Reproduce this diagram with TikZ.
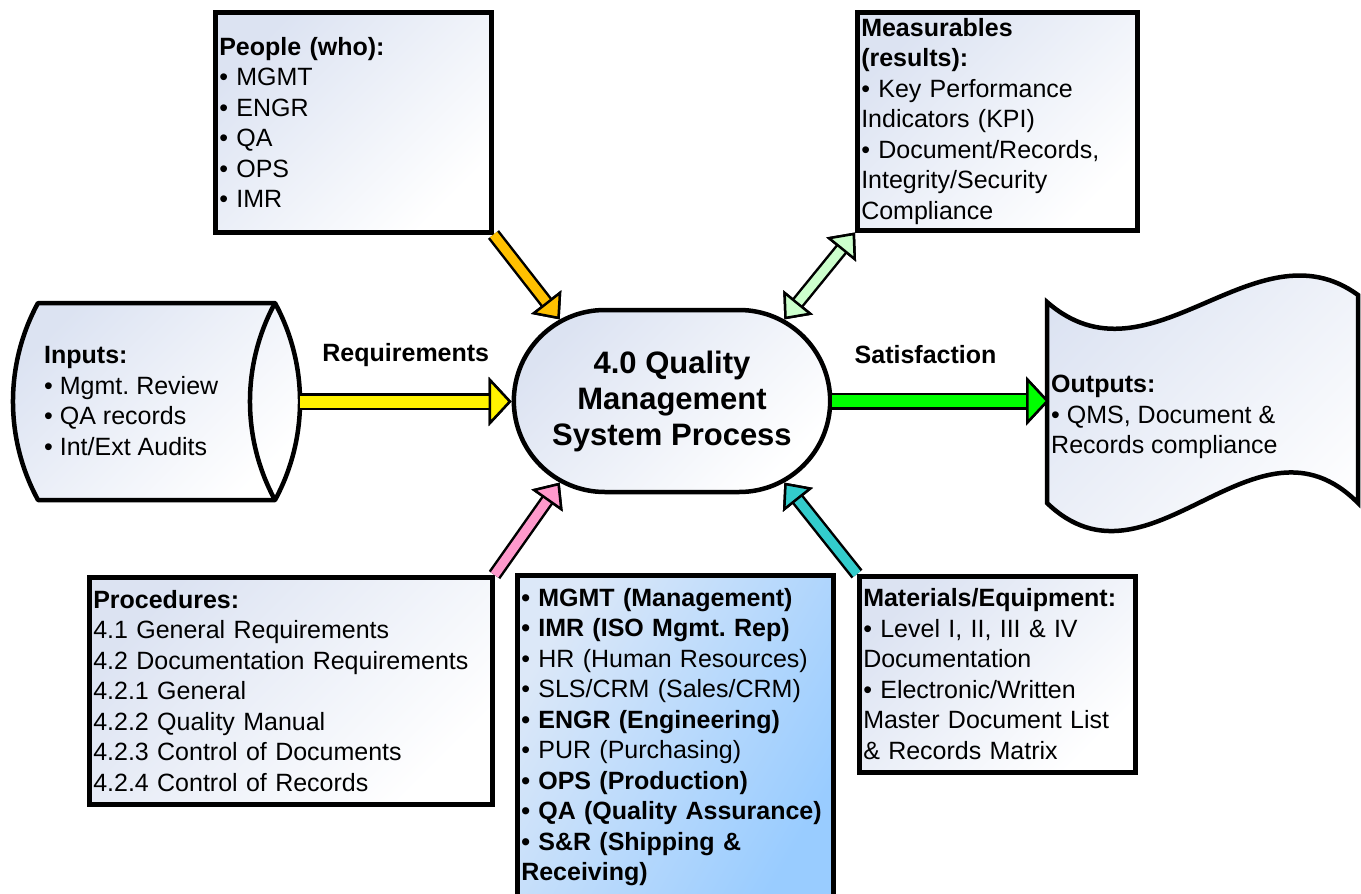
\documentclass[tikz,border=0pt]{standalone}
\usepackage{fontspec}
\setmainfont{Liberation Sans}
\usetikzlibrary{shapes.misc,arrows.meta}
\definecolor{boxTint}{HTML}{DCE3F2}
\definecolor{deptTint}{HTML}{DCE8F8}
\definecolor{deptBlue}{HTML}{99CCFF}
\colorlet{reqArrow}{yellow}
\definecolor{satArrow}{HTML}{00FF00}
\definecolor{peopleArrow}{HTML}{FFC000}
\definecolor{measureArrow}{HTML}{CCFFCC}
\definecolor{procArrow}{HTML}{FF99CC}
\definecolor{matArrow}{HTML}{33CCCC}
\frenchspacing

\begin{document}
\begin{tikzpicture}[
  x=1pt, y=-1pt,
  every node/.style={
    font=\fontsize{25}{30.5}\selectfont,
  },
  tinted/.style={
    left color=boxTint,
    right color=white,
    shading angle=45,
  },
  box/.style={
    draw,
    line width=4.5pt,
    tinted,
    align=left,
    inner xsep=4pt,
    inner ysep=0pt,
    anchor=north west,
  },
  flow/.style={
    draw=#1,
    line width=12pt,
    preaction={draw=black, line width=17pt},
    -{Triangle[length=23pt, width=49pt, line width=2.5pt, color=black, fill=#1]},
  },
  feed/.style={
    draw=#1,
    line width=9pt,
    preaction={draw=black, line width=14pt},
    -{Triangle[length=22pt, width=38pt, line width=2.5pt, color=black, fill=#1]},
  },
  feed both/.style={
    feed=#1,
    {Triangle[length=22pt, width=38pt, line width=2.5pt, color=black, fill=#1]}-{Triangle[length=22pt, width=38pt, line width=2.5pt, color=black, fill=#1]},
  },
]
\useasboundingbox (0,0) rectangle (1361,894);

% the boxes round the process
\node[box, minimum width=276pt, minimum height=220pt, text width=268pt] (people) at (213,10)
  {\textbf{People (who):}\\• MGMT\\• ENGR\\• QA\\• OPS\\• IMR};
\node[box, minimum width=280pt, minimum height=218pt, text width=272pt] (measurables) at (855,10)
  {\textbf{Measurables}\\\textbf{(results):}\\• Key Performance\\Indicators (KPI)\\• Document/Records,\\Integrity/Security\\Compliance};
\node[box, minimum width=403pt, minimum height=227pt, text width=395pt] (procedures) at (87,575)
  {\textbf{Procedures:}\\4.1 General Requirements\\4.2 Documentation Requirements\\4.2.1 General\\4.2.2 Quality Manual\\4.2.3 Control of Documents\\4.2.4 Control of Records};
\node[box, minimum width=276pt, minimum height=196pt, text width=268pt] (materials) at (857,574)
  {\textbf{Materials/Equipment:}\\• Level I, II, III \& IV\\Documentation\\• Electronic/Written\\Master Document List\\\& Records Matrix};
\node[box, left color=deptTint, right color=deptBlue, shading angle=60,
  minimum width=316pt, minimum height=324pt, text width=308pt] (dept) at (515,573)
  {\textbf{• MGMT (Management)}\\\textbf{• IMR (ISO Mgmt. Rep)}\\• HR (Human Resources)\\• SLS/CRM (Sales/CRM)\\\textbf{• ENGR (Engineering)}\\• PUR (Purchasing)\\\textbf{• OPS (Production)}\\\textbf{• QA (Quality Assurance)}\\\textbf{• S\&R (Shipping \&}\\\textbf{Receiving)}};

% inputs drum
\draw[line width=4.5pt, line join=round, tinted]
  (38,303) -- (275,303) arc[start angle=-28.5, end angle=28.5, radius=206.5]
  -- (38,500) arc[start angle=151.5, end angle=208.5, radius=206.5] -- cycle;
\draw[line width=4.5pt]
  (275,303) arc[start angle=208.5, end angle=151.5, radius=206.5];
\coordinate (inputs rim) at (300,401.5);
\node[align=left, anchor=west, inner sep=0pt] (inputs) at (44,401)
  {\textbf{Inputs:}\\• Mgmt. Review\\• QA records\\• Int/Ext Audits};

% outputs sheet
\draw[line width=4.5pt, tinted]
  (1047,302) .. controls (1150,392) and (1255,220) .. (1358,295)
  -- (1358,503) .. controls (1255,399) and (1150,602) .. (1047,503) -- cycle;
\node[align=left, anchor=west, inner sep=2pt] (outputs) at (1049,417)
  {\textbf{Outputs:}\\• QMS, Document \&\\Records compliance};

% the process
\node[rounded rectangle, draw, line width=4.5pt, tinted, align=center,
  minimum width=323pt, minimum height=182pt,
  font=\fontsize{31}{36}\selectfont\bfseries] (qms) at (672,401)
  {4.0 Quality\\Management\\System Process};

% arrows
\draw[flow=reqArrow] (inputs rim) -- (inputs rim -| qms.west)
  node[midway, yshift=46pt, font=\fontsize{25}{30}\selectfont\bfseries] (req) {Requirements};
\draw[flow=satArrow] (qms.east) -- (qms.east -| outputs.west)
  node[pos=0.43, yshift=46pt, font=\fontsize{25}{30}\selectfont\bfseries] (sat) {Satisfaction};
\draw[feed=peopleArrow] (people.south east) -- (qms.144);
\draw[feed both=measureArrow] (measurables.south west) -- (qms.36);
\draw[feed=procArrow] (procedures.north east) -- (qms.216);
\draw[feed=matArrow] (materials.north west) -- (qms.-36);
\end{tikzpicture}
\end{document}
